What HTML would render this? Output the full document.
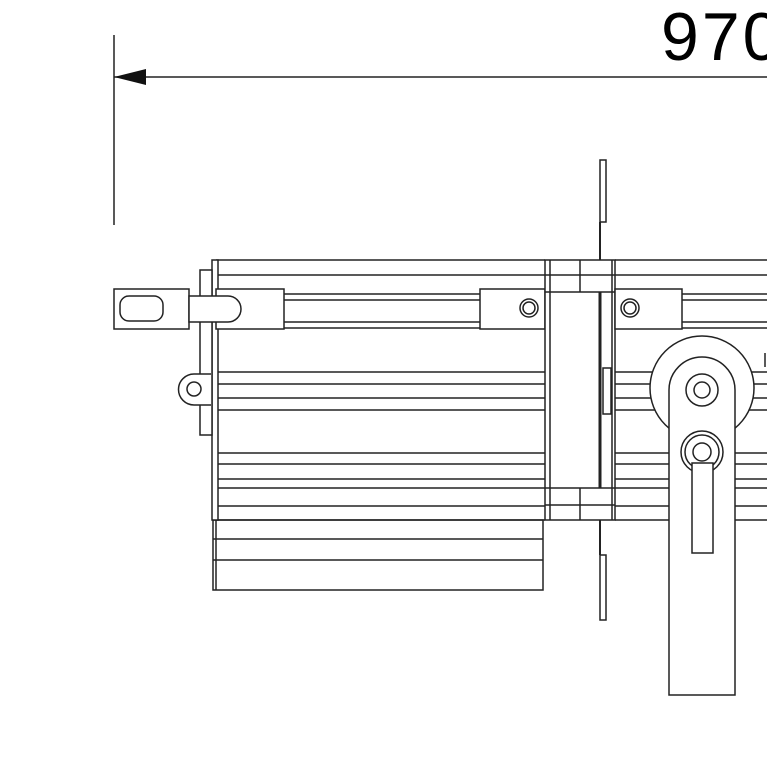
<!DOCTYPE html>
<html><head><meta charset="utf-8"><style>html,body{margin:0;padding:0;background:#fff;}svg{display:block}</style></head>
<body>
<svg width="767" height="767" viewBox="0 0 767 767" xmlns="http://www.w3.org/2000/svg" fill="none" stroke="#222" stroke-width="1.5">
<!-- dimension -->
<line x1="114" y1="35" x2="114" y2="225"/>
<line x1="114" y1="77" x2="767" y2="77"/>
<polygon points="114,77 146,69 146,85" fill="#111" stroke="none"/>
<text x="661" y="60" font-family="Liberation Sans, sans-serif" font-size="68" fill="#000" stroke="none" letter-spacing="3">970</text>

<!-- left body lines -->
<g>
<line x1="216" y1="260" x2="545" y2="260"/>
<line x1="216" y1="275" x2="545" y2="275"/>
<line x1="284" y1="294" x2="480" y2="294"/>
<line x1="284" y1="300" x2="480" y2="300"/>
<line x1="284" y1="322" x2="480" y2="322"/>
<line x1="216" y1="328" x2="480" y2="328"/>
<line x1="216" y1="372" x2="545" y2="372"/>
<line x1="216" y1="384" x2="545" y2="384"/>
<line x1="216" y1="398" x2="545" y2="398"/>
<line x1="216" y1="410" x2="545" y2="410"/>
<line x1="216" y1="453" x2="545" y2="453"/>
<line x1="216" y1="464" x2="545" y2="464"/>
<line x1="216" y1="479" x2="545" y2="479"/>
<line x1="216" y1="488" x2="545" y2="488"/>
<line x1="216" y1="506" x2="545" y2="506"/>
<line x1="216" y1="520" x2="545" y2="520"/>
</g>
<rect x="213" y="520" width="330" height="70"/>
<line x1="213" y1="539" x2="543" y2="539"/>
<line x1="213" y1="560" x2="543" y2="560"/>
<line x1="216" y1="520" x2="216" y2="590"/>
<!-- left plates -->
<rect x="212" y="260" width="6" height="260" fill="#fff"/>
<rect x="200" y="270" width="12" height="165" fill="#fff"/>
<!-- lug -->
<path d="M211,374 L194,374 A15,15 0 0 0 194,405 L211,405" fill="#fff"/>
<circle cx="194" cy="389" r="7"/>
<!-- latch -->
<rect x="114" y="289" width="75" height="40" fill="#fff"/>
<rect x="120" y="296" width="43" height="25" rx="9" ry="9"/>
<rect x="216" y="289" width="68" height="40" fill="#fff"/>
<path d="M189,296 L228,296 A13,13 0 0 1 228,322 L189,322 Z" fill="#fff"/>
<!-- bracket left of ring -->
<rect x="480" y="289" width="65" height="40" fill="#fff"/>
<circle cx="529" cy="308" r="9"/><circle cx="529" cy="308" r="6"/>

<!-- ring -->
<rect x="545" y="260" width="70" height="260" fill="#fff"/>
<line x1="550" y1="260" x2="550" y2="520"/>
<line x1="612" y1="260" x2="612" y2="520"/>
<line x1="545" y1="275" x2="615" y2="275"/>
<line x1="545" y1="292" x2="615" y2="292"/>
<line x1="580" y1="260" x2="580" y2="292"/>
<line x1="545" y1="488" x2="615" y2="488"/>
<line x1="545" y1="505" x2="615" y2="505"/>
<line x1="580" y1="488" x2="580" y2="520"/>
<line x1="600" y1="292" x2="600" y2="488" stroke-width="3"/>
<rect x="603" y="368" width="8" height="46"/>
<!-- top / bottom tabs -->
<rect x="600" y="160" width="6" height="62"/>
<line x1="600" y1="222" x2="600" y2="260" stroke-width="2"/>
<rect x="600" y="555" width="6" height="65"/>
<line x1="600" y1="520" x2="600" y2="555" stroke-width="2"/>

<!-- right side rails -->
<line x1="615" y1="260" x2="767" y2="260"/>
<line x1="615" y1="275" x2="767" y2="275"/>
<line x1="682" y1="294" x2="767" y2="294"/>
<line x1="682" y1="300" x2="767" y2="300"/>
<line x1="682" y1="322" x2="767" y2="322"/>
<line x1="682" y1="328" x2="767" y2="328"/>
<rect x="615" y="289" width="67" height="40" fill="#fff"/>
<circle cx="630" cy="308" r="9"/><circle cx="630" cy="308" r="6"/>
<g>
<line x1="615" y1="372" x2="767" y2="372"/>
<line x1="615" y1="384" x2="767" y2="384"/>
<line x1="615" y1="398" x2="767" y2="398"/>
<line x1="615" y1="410" x2="767" y2="410"/>
<line x1="615" y1="453" x2="767" y2="453"/>
<line x1="615" y1="464" x2="767" y2="464"/>
<line x1="615" y1="479" x2="767" y2="479"/>
<line x1="615" y1="488" x2="767" y2="488"/>
<line x1="615" y1="506" x2="767" y2="506"/>
<line x1="615" y1="520" x2="767" y2="520"/>
</g>
<line x1="765" y1="353" x2="765" y2="367"/>
<!-- arm -->
<circle cx="702" cy="388" r="52" fill="#fff"/>
<path d="M669,695 L669,390 A33,33 0 0 1 735,390 L735,695 Z" fill="#fff"/>
<circle cx="702" cy="390" r="16"/><circle cx="702" cy="390" r="8"/>
<circle cx="702" cy="452" r="21" fill="#fff"/><circle cx="702" cy="452" r="17"/>
<rect x="692" y="463" width="21" height="90" fill="#fff"/>
<circle cx="702" cy="452" r="9" fill="#fff"/>
</svg>
</body></html>
